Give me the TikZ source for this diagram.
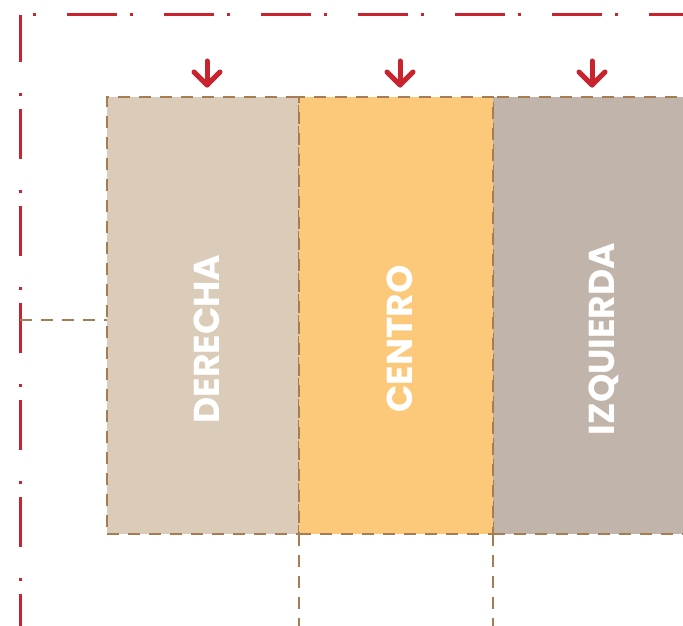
\documentclass[tikz,border=0pt]{standalone}
\usepackage{fontspec}
\usetikzlibrary{calc}
\newfontfamily\labelfont{Poppins}
\definecolor{redline}{HTML}{C8242F}
\definecolor{brownline}{HTML}{A67C52}
\definecolor{boxA}{HTML}{DBCBB9}
\definecolor{boxB}{HTML}{FBC979}
\definecolor{boxC}{HTML}{C1B4AA}
\begin{document}
\begin{tikzpicture}[x=1pt,y=-1pt,
  panel/.style={draw=brownline, line width=2.8pt, dash pattern=on 12pt off 9pt, inner sep=0pt, outer sep=0pt, minimum height=437pt},
  paneltext/.style={text=white, font=\labelfont\bfseries\fontsize{36}{36}\selectfont, rotate=90, inner sep=0pt, text depth=0pt},
  guide/.style={draw=brownline, line width=2.8pt, dash pattern=on 12pt off 9pt},
  frame/.style={draw=redline, line width=3pt},
  downarrow/.style={draw=redline, line width=5pt, line cap=round, line join=round}
]
\useasboundingbox (0,0) rectangle (683,626);
\clip (0,0) rectangle (683,626);
% frame
\coordinate (fc) at (20,15);
\coordinate (fr) at (683,15);
\coordinate (fb) at (20,626);
\draw[frame, dash pattern=on 50pt off 13pt on 3pt off 31pt, dash phase=50pt] (fc) -- (fr);
\draw[frame, dash pattern=on 50pt off 31pt on 3pt off 13pt, dash phase=3pt] (fc) -- (fb);
% panels
\node[panel, fill=boxA, minimum width=192pt] (der) at (203,315.5) {};
\node[panel, fill=boxC, minimum width=220pt] (izq) at (603,315.5) {};
\node[panel, fill=boxB, minimum width=194pt] (cen) at (396,315.5) {};
\node[paneltext] (tder) at (207,339) {DERECHA};
\node[paneltext] (tcen) at (400,339) {CENTRO};
\node[paneltext] (tizq) at (602,339) {IZQUIERDA};
% guides
\coordinate (gl) at (20,320);
\draw[guide] (gl) -- (der.west |- gl);
\coordinate (g1) at (299,626);
\coordinate (g2) at (493,626);
\draw[guide] (cen.south west) -- (g1);
\draw[guide] (cen.south east) -- (g2);
% arrows
\foreach \n/\x in {a1/207,a2/400,a3/592}{
  \coordinate (\n t) at (\x,61);
  \coordinate (\n h) at (\x,85);
  \draw[downarrow] (\n t) -- (\n h);
  \draw[downarrow] ($(\n h)+(-13,-13)$) -- (\n h) -- ($(\n h)+(13,-13)$);
}
\end{tikzpicture}
\end{document}
